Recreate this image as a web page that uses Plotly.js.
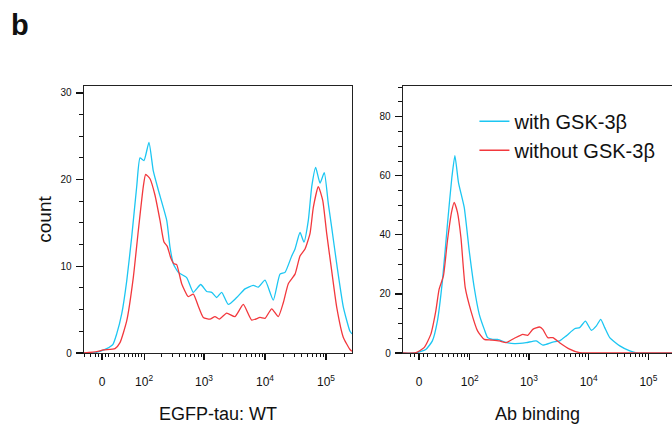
<!DOCTYPE html>
<html>
<head>
<meta charset="utf-8">
<script src="https://cdn.plot.ly/plotly-3.0.1.min.js"></script>
<style>html,body{margin:0;padding:0;background:#fff;}#chart{width:672px;height:429px;}</style>
</head>
<body>
<div id="chart"></div>
<script>
// ---- Data (x in logicle display units: 2 = 10^2, 3 = 10^3 ...) ----
const tauPosWith = [1.033,1.185,1.295,1.405,1.508,1.569,1.651,1.733,1.815,1.897,1.951,2.016,2.098,2.169,2.251,2.389,2.443,2.497,2.579,2.716,2.825,2.946,3.044,3.126,3.208,3.290,3.398,3.536,3.672,3.808,3.890,4.000,4.136,4.246,4.328,4.438,4.492,4.574,4.639,4.710,4.766,4.831,4.902,4.972,5.038,5.093,5.175,5.284,5.393,5.426];
const tauCountWith = [0,0,0.2,0.5,1.0,2.2,4.5,8.3,13.4,19.2,22.5,22.2,24.3,21.0,18.8,15.3,12.2,10.3,9.3,8.7,7.0,7.9,7.1,7.0,6.4,7.0,5.6,6.4,7.4,7.8,7.6,8.4,6.1,9.1,9.3,11.2,12.0,13.9,12.8,15.3,19.2,21.4,19.6,20.8,17.2,14.5,10.3,5.3,2.5,2.2];

const tauPosWithout = [1.033,1.241,1.349,1.541,1.623,1.733,1.841,1.923,2.005,2.044,2.115,2.197,2.279,2.344,2.398,2.454,2.508,2.552,2.634,2.743,2.825,2.907,2.989,3.098,3.180,3.251,3.372,3.508,3.644,3.782,3.918,4.000,4.110,4.218,4.300,4.382,4.492,4.574,4.656,4.738,4.792,4.874,4.946,5.011,5.093,5.175,5.284,5.393,5.426];
const tauCountWithout = [0,0.15,0.35,0.5,1.2,3.7,8.7,14.1,19.2,20.6,20.1,18.2,15.3,12.8,12.3,11.0,10.3,10.2,8.0,6.5,6.8,5.4,4.1,3.9,4.2,3.9,4.6,4.2,5.6,3.8,4.1,4.0,5.1,4.2,5.8,8.0,9.1,11.2,12.0,13.8,16.8,19.2,17.6,13.8,9.5,5.3,1.8,0.4,0.2];

const abPosWith = [0.891,1.104,1.272,1.383,1.467,1.551,1.635,1.709,1.760,1.820,1.916,2.000,2.084,2.168,2.252,2.308,2.392,2.476,2.617,2.756,2.953,3.121,3.232,3.400,3.513,3.625,3.765,3.849,3.945,4.045,4.129,4.202,4.269,4.353,4.521,4.689,4.802,5.395];
const abCountWith = [0,0,1.2,4.1,10.8,24.4,43.6,59.4,66.8,57.7,49.3,34.6,22.1,13.1,8.0,5.2,4.6,4.6,3.6,3.2,3.5,4.1,2.7,3.7,4.1,5.8,8.2,8.6,10.8,7.7,9.2,11.4,8.6,5.2,2.4,0.7,0,0];

const abPosWithout = [0.891,1.104,1.244,1.356,1.440,1.496,1.568,1.635,1.703,1.748,1.803,1.861,1.933,2.029,2.139,2.252,2.365,2.504,2.617,2.756,2.896,2.980,3.064,3.176,3.232,3.316,3.400,3.513,3.681,3.849,4.017,5.395];
const abCountWithout = [0,0.1,1.8,6.3,14.2,21.6,26.1,38.0,47.6,51.0,47.6,39.1,22.1,14.2,7.5,4.6,4.4,4.1,3.5,5.0,6.3,6.0,8.0,8.8,8.0,5.2,5.2,3.5,1.3,0.1,0,0];

// tick values (raw fluorescence) and labels
const majorTickRaw = [0, 100, 1000, 10000, 100000];
const majorTickText = ['0', '10<sup>2</sup>', '10<sup>3</sup>', '10<sup>4</sup>', '10<sup>5</sup>'];
const minorTickRaw = [-30,-20,-10,-5,5,10,20,30,40,50,60,70,80,90,200,300,400,500,600,700,800,900,2000,3000,4000,5000,6000,7000,8000,9000,20000,30000,40000,50000,60000,70000,80000,90000,200000];
const seriesNames = ['with GSK-3β', 'without GSK-3β'];
const xTitles = ['EGFP-tau: WT', 'Ab binding'];
const yTitle = 'count';

// ---- logicle-like display transform for tick placement ----
function disp(v, c) { return Math.log10((v + Math.sqrt(v * v + 4 * c * c)) / 2); }
const cLeft = 21.3, cRight = 14.45;

const BLUE = '#1cc6f2', RED = '#f2383d';
const FONT = 'Liberation Sans, Arial, Helvetica, sans-serif';

function tr(x, y, name, color, xa, ya, show) {
  return {x: x, y: y, name: name, type: 'scatter', mode: 'lines',
    line: {color: color, width: 1.3, shape: 'spline', smoothing: 0.5},
    xaxis: xa, yaxis: ya, showlegend: show, hoverinfo: 'skip'};
}
const data = [
  tr(tauPosWith, tauCountWith, seriesNames[0], BLUE, 'x', 'y', false),
  tr(tauPosWithout, tauCountWithout, seriesNames[1], RED, 'x', 'y', false),
  tr(abPosWith, abCountWith, seriesNames[0], BLUE, 'x2', 'y2', true),
  tr(abPosWithout, abCountWithout, seriesNames[1], RED, 'x2', 'y2', true)
];

function xAxis(c, range, domain, title, mirror, anchor) {
  return {
    domain: domain, range: range, anchor: anchor,
    tickmode: 'array', tickvals: majorTickRaw.map(v => disp(v, c)), ticktext: majorTickText,
    ticks: 'outside', ticklen: 6, tickwidth: 1.2, tickcolor: '#111',
    ticklabelstandoff: 11,
    minor: {tickmode: 'array', tickvals: minorTickRaw.map(v => disp(v, c)), ticks: 'outside', ticklen: 3, tickwidth: 1, tickcolor: '#111', showgrid: false},
    showline: true, linecolor: '#222', linewidth: 1.3, mirror: mirror,
    showgrid: false, zeroline: false, layer: 'below traces',
    tickfont: {family: FONT, size: 12, color: '#111'},
    title: {text: title, font: {family: FONT, size: 18, color: '#111'}, standoff: 19}
  };
}
function yAxis(range, dtick, minorDtick, mirror, anchor, title) {
  const ax = {
    domain: [0, 1], range: range, anchor: anchor,
    tickmode: 'linear', tick0: 0, dtick: dtick,
    ticks: 'outside', ticklen: 7, tickwidth: 1.2, tickcolor: '#111',
    ticklabelstandoff: 2,
    minor: {tickmode: 'linear', tick0: 0, dtick: minorDtick, ticks: 'outside', ticklen: 3.5, tickwidth: 1, tickcolor: '#111', showgrid: false},
    showline: true, linecolor: '#222', linewidth: 1.3, mirror: mirror,
    showgrid: false, zeroline: false, layer: 'below traces',
    tickfont: {family: FONT, size: 10, color: '#111'}
  };
  if (title) ax.title = {text: title, font: {family: FONT, size: 19, color: '#111'}, standoff: 4};
  return ax;
}

const layout = {
  width: 672, height: 429,
  margin: {l: 84, r: 0, t: 86, b: 76},
  paper_bgcolor: '#fff', plot_bgcolor: '#fff',
  font: {family: FONT, color: '#111'},
  xaxis: xAxis(cLeft, [1.033, 5.426], [0, 268 / 588], xTitles[0], true, 'y'),
  yaxis: yAxis([0, 30.8], 10, 2.5, true, 'x', yTitle),
  xaxis2: xAxis(cRight, [0.891, 5.395], [319 / 588, 1], xTitles[1], true, 'y2'),
  yaxis2: yAxis([0, 90.4], 20, 5, false, 'x2', null),
  showlegend: true,
  legend: {x: 0.664, y: 0.941, xanchor: 'left', yanchor: 'top', bgcolor: 'rgba(0,0,0,0)',
    font: {family: FONT, size: 20, color: '#111'}, tracegroupgap: 0, itemwidth: 30},
  annotations: [{text: '<b>b</b>', xref: 'paper', yref: 'paper', x: -0.127, y: 1.228,
    xanchor: 'left', yanchor: 'middle', showarrow: false, font: {family: FONT, size: 29, color: '#111'}}]
};

Plotly.newPlot('chart', data, layout, {staticPlot: true, displayModeBar: false});
</script>
</body>
</html>
